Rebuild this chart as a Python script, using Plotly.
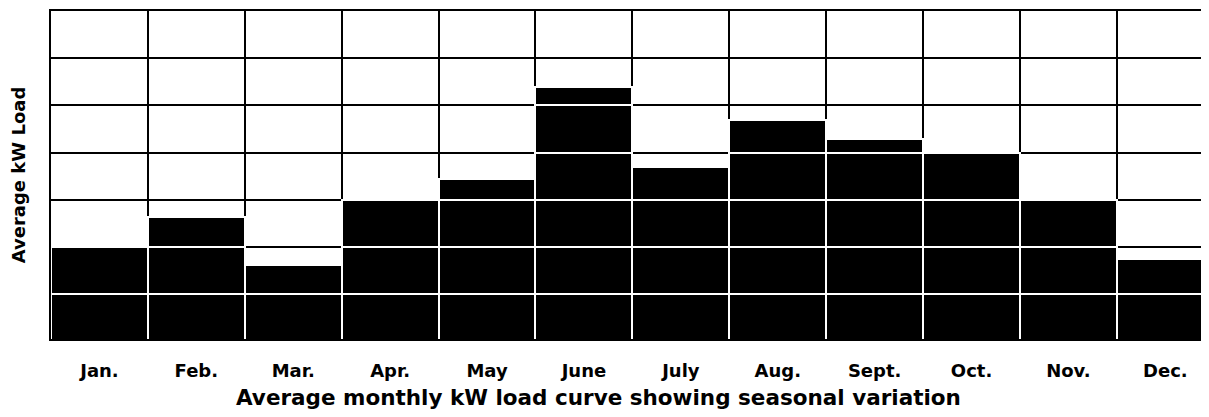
import plotly.graph_objects as go

months = ["Jan.", "Feb.", "Mar.", "Apr.", "May", "June",
          "July", "Aug.", "Sept.", "Oct.", "Nov.", "Dec."]
avg_load = [2.0, 2.63, 1.62, 3.0, 3.43, 5.4, 3.7, 4.7, 4.29, 4.0, 3.0, 1.75]
grid_levels = [0, 1, 2, 3, 4, 5, 6, 7]

x_pos = list(range(len(months)))
boundaries = [i - 0.5 for i in range(len(months) + 1)]

fig = go.Figure()
# each bar is stacked from one-unit pieces so the grid shows white across the bars
for level in grid_levels[:-1]:
    piece = []
    for value in avg_load:
        h = min(max(value - level, 0), 1)
        piece.append(h if h > 0 else None)
    fig.add_trace(
        go.Bar(
            x=x_pos,
            y=piece,
            width=1,
            marker={"color": "black", "line": {"color": "white", "width": 2}},
            showlegend=False,
            hoverinfo="skip",
        )
    )

family = "DejaVu Sans, Liberation Sans, sans-serif"

# page body has an 8px margin, so the figure is sized/offset to fill the window
fig.update_layout(
    barmode="stack",
    bargap=0,
    width=1201,
    height=401,
    margin={"l": 43, "r": 0, "t": 3, "b": 70},
    plot_bgcolor="white",
    paper_bgcolor="white",
    font={"family": family, "color": "black", "size": 18},
)
fig.add_annotation(
    text="<b>Average monthly kW load curve showing seasonal variation</b>",
    xref="paper",
    yref="paper",
    x=0.474,
    y=-0.177,
    xanchor="center",
    yanchor="middle",
    showarrow=False,
    font={"family": family, "size": 21.5},
)
fig.update_xaxes(
    range=[-0.5, 11.43],
    tickmode="array",
    tickvals=x_pos,
    ticktext=[f"<b>{m}</b>" for m in months],
    tickfont={"family": family, "size": 18},
    ticks="",
    ticklabelstandoff=14,
    showgrid=False,
    minor={
        "tickmode": "array",
        "tickvals": boundaries,
        "showgrid": True,
        "gridcolor": "black",
        "gridwidth": 2,
        "ticks": "",
    },
    showline=True,
    linecolor="black",
    linewidth=2,
    mirror=True,
    layer="below traces",
    zeroline=False,
)
fig.update_yaxes(
    range=[0.05, 7],
    tickmode="array",
    tickvals=grid_levels,
    showticklabels=False,
    ticks="",
    showgrid=True,
    gridcolor="black",
    gridwidth=2,
    showline=True,
    linecolor="black",
    linewidth=2,
    mirror=True,
    layer="below traces",
    zeroline=False,
    title={"text": "<b>Average kW Load</b>",
           "font": {"family": family, "size": 18}, "standoff": 21},
)

fig.write_html("out.html")
